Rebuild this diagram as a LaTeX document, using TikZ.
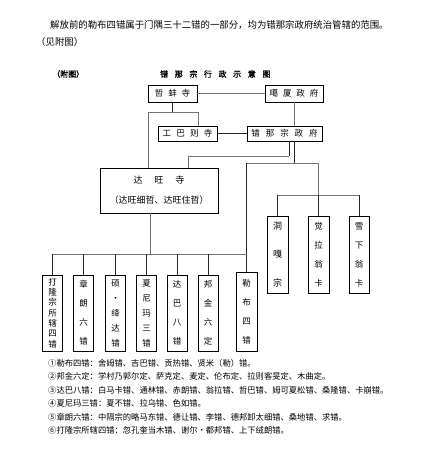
\documentclass[tikz,border=0pt]{standalone}
\usepackage{fontspec}
\setmainfont[AutoFakeBold=1.6]{Noto Sans CJK SC}
\usetikzlibrary{positioning}

\newcommand{\cgap}[1][5pt]{\hspace{#1}}

\tikzset{
  unit/.style={draw, line width=0.9pt, inner sep=0pt, font=\fontsize{8.5}{10}\selectfont},
  vunit/.style={unit, minimum width=20, minimum height=76, align=center, font=\fontsize{8.5}{19}\selectfont},
  note/.style={anchor=west, inner sep=0pt, font=\fontsize{8.3}{9}\selectfont},
  faint/.style={line width=0.4pt, black!55},
  link/.style={line width=0.55pt, black!85},
}

\begin{document}
\begin{tikzpicture}[x=1pt, y=-1pt]
    \useasboundingbox (0,0) rectangle (440,463);

    \node[anchor=west, inner sep=0pt, font=\fontsize{9.4}{10}\selectfont] (intro) at (50,25)
      {解放前的勒布四错属于门隅三十二错的一部分，均为错那宗政府统治管辖的范围。};
    \node[anchor=west, inner sep=0pt, font=\fontsize{9.4}{10}\selectfont] (see) at (36,42) {（见附图）};
    \node[anchor=west, inner sep=0pt, font=\fontsize{8}{9}\selectfont\bfseries] (fig) at (52,74) {（附图）};
    \node[anchor=west, inner sep=0pt, font=\fontsize{8}{9}\selectfont\bfseries] (title) at (160,74)
      {错\cgap[6.6pt]那\cgap[6.6pt]宗\cgap[6.6pt]行\cgap[6.6pt]政\cgap[6.6pt]示\cgap[6.6pt]意\cgap[6.6pt]图};

    % upper units
    \node[unit, minimum width=49, minimum height=17] (zhebang) at (172.5,93.5) {哲\cgap 蚌\cgap 寺};
    \node[unit, minimum width=58, minimum height=17] (gaxia) at (294,93.5) {噶\cgap 厦\cgap 政\cgap 府};
    \node[unit, minimum width=59, minimum height=15] (gongba) at (187.5,133.5) {工\cgap[5.3pt]巴\cgap[5.3pt]则\cgap[5.3pt]寺};
    \node[unit, minimum width=75, minimum height=15] (cuona) at (284.5,133.5) {错\cgap[5.9pt]那\cgap[5.9pt]宗\cgap[5.9pt]政\cgap[5.9pt]府};
    \node[unit, minimum width=118, minimum height=45, align=center, font=\fontsize{9}{20}\selectfont] (dawang) at (159,190.5)
      {达\cgap[12pt]旺\cgap[12pt]寺\\（达旺细哲、达旺住哲）};

    % right units
    \node[vunit, minimum width=21, minimum height=77, font=\fontsize{9}{28.5}\selectfont] (dongga) at (277.5,254.5) {洞\\嘎\\宗};
    \node[vunit, minimum width=21, minimum height=77] (juela) at (318.5,254.5) {觉\\拉\\翁\\卡};
    \node[vunit, minimum width=20, minimum height=77] (xuexia) at (359,254.5) {雪\\下\\翁\\卡};

    % lower units
    \node[vunit, font=\fontsize{8.5}{10.3}\selectfont] (dalong) at (52.5,313) {打\\隆\\宗\\所\\辖\\四\\错};
    \node[vunit] (zhanglang) at (83.5,313) {章\\朗\\六\\错};
    \node[vunit, font=\fontsize{8.5}{15}\selectfont] (shuo) at (115.5,313) {硕\\·\\绛\\达\\错};
    \node[vunit, font=\fontsize{8.5}{15}\selectfont] (xianima) at (146.5,313) {夏\\尼\\玛\\三\\错};
    \node[vunit] (daba) at (177,313) {达\\巴\\八\\错};
    \node[vunit] (bangjin) at (208,313) {邦\\金\\六\\定};
    \node[vunit, minimum width=21, minimum height=79] (lebu) at (246.5,311.5) {勒\\布\\四\\错};

    % links above
    \draw[faint] (zhebang) -- (gaxia);
    \coordinate (zb) at (zhebang.south |- 0,112);
    \coordinate (zbl) at (148,112);
    \coordinate (zbr) at (198,112);
    \draw[link] (zhebang.south) -- (zb);
    \draw[faint] (zbl) -- (zbr);
    \draw[faint] (zbl) -- (zbl |- dawang.north);
    \draw[faint] (zbr) -- (zbr |- gongba.north);
    \draw[link] (gongba) -- (cuona);
    \draw[faint] (gaxia.south) -- (gaxia.south |- cuona.north);

    \coordinate (cn1) at (289,156);
    \coordinate (cn1l) at (188,156);
    \draw[link] (cn1 |- cuona.south) -- (cn1);
    \draw[faint] (cn1) -- (cn1l) -- (cn1l |- dawang.north);

    \coordinate (cn2) at (294,163);
    \coordinate (lb) at (lebu.north |- cn2);
    \coordinate (rt) at (juela.north |- cn2);
    \coordinate (rb) at (juela.north |- 0,195);
    \draw[link] (cn2 |- cuona.south) -- (cn2);
    \draw[faint] (lb) -- (rt);
    \draw[link] (lb) -- (lebu.north);
    \draw[faint] (rt) -- (rb);
    \draw[faint] (dongga.north |- rb) -- (xuexia.north |- rb);
    \draw[link] (dongga.north |- rb) -- (dongga.north);
    \draw[link] (rb) -- (juela.north);
    \draw[link] (xuexia.north |- rb) -- (xuexia.north);

    % links below
    \coordinate (dw) at (150,254);
    \draw[faint] (dw |- dawang.south) -- (dw);
    \draw[faint] (dalong.north |- dw) -- (lebu.north |- dw);
    \draw[link] (dalong.north |- dw) -- (dalong.north);
    \draw[link] (zhanglang.north |- dw) -- (zhanglang.north);
    \draw[link] (shuo.north |- dw) -- (shuo.north);
    \draw[link] (xianima.north |- dw) -- (xianima.north);
    \draw[link] (daba.north |- dw) -- (daba.north);
    \draw[link] (bangjin.north |- dw) -- (bangjin.north);

    % notes
    \node[note] (n1) at (48,363) {①勒布四错：舍姆错、吉巴错、贡热错、贤米（勒）错。};
    \node[note] (n2) at (48,376.5) {②邦金六定：学村乃郭尔定、萨克定、麦定、伦布定、拉则客旻定、木曲定。};
    \node[note] (n3) at (48,390) {③达巴八错：白马卡错、通林错、赤朗错、翁拉错、哲巴错、姆可夏松错、桑隆错、卡崩错。};
    \node[note] (n4) at (48,403.5) {④夏尼玛三错：夏不错、拉乌错、色如错。};
    \node[note] (n5) at (48,417) {⑤章朗六错：中隔宗的略马东错、德让错、李错、德邦卸太细错、桑地错、求错。};
    \node[note] (n6) at (48,430.5) {⑥打隆宗所辖四错：忽孔奎当木错、谢尔·都邦错、上下绒朗错。};
  \end{tikzpicture}
\end{document}
